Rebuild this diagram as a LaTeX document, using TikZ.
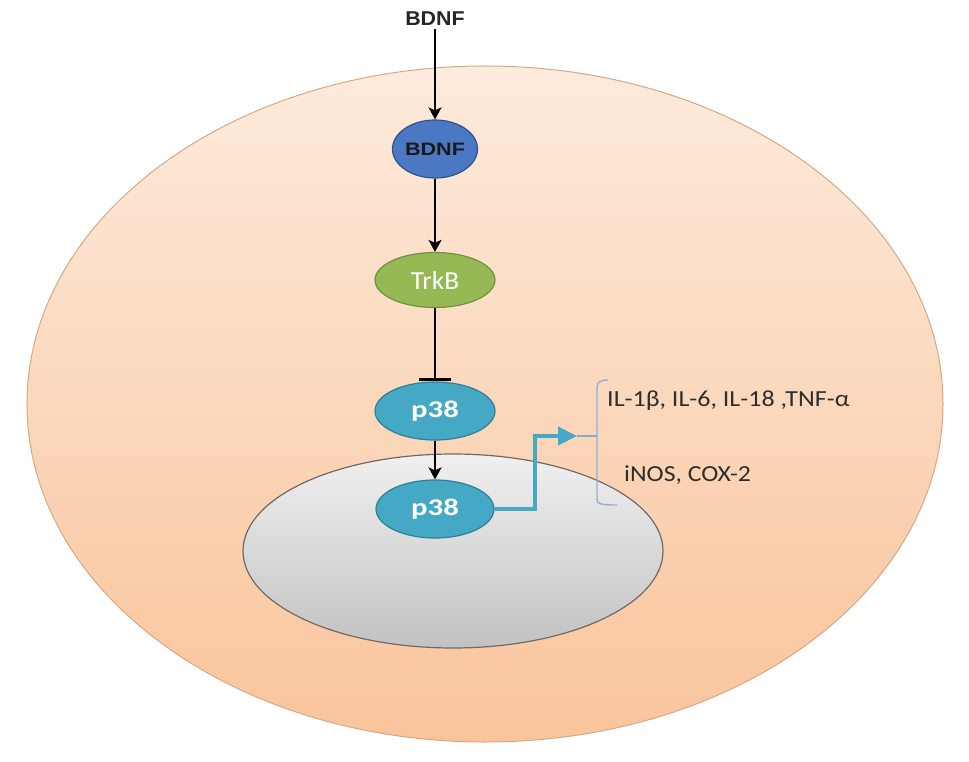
\documentclass[tikz,border=0pt]{standalone}
\usepackage{fontspec}
\usepackage{graphicx}
\setmainfont{Carlito}
\newfontfamily\arialfont{Liberation Sans}
\usetikzlibrary{shapes.geometric,arrows.meta}
\definecolor{cellborder}{HTML}{D8A883}
\definecolor{celltop}{HTML}{FDEBDD}
\definecolor{cellbot}{HTML}{F9C49B}
\definecolor{nuctop}{HTML}{F0F0F0}
\definecolor{nucbot}{HTML}{C2C2C2}
\definecolor{nucborder}{HTML}{6F6A66}
\definecolor{bdnfblue}{HTML}{4A78C3}
\definecolor{bdnfborder}{HTML}{2F5290}
\definecolor{trkgreen}{HTML}{97B955}
\definecolor{trkborder}{HTML}{73903E}
\definecolor{pteal}{HTML}{45A8C4}
\definecolor{pborder}{HTML}{2F8099}
\definecolor{bracketcol}{HTML}{93B1D9}
\tikzset{
  prot/.style={ellipse, draw, line width=1.2pt, inner sep=0pt},
  act/.style={line width=2pt, -{Stealth[length=12pt,width=13pt,inset=3pt]}},
  inh/.style={line width=2pt, -{Bar[width=32pt,line width=3.5pt]}},
  lbl/.style={font=\fontsize{23}{26}\selectfont, text=black!82, anchor=base west, inner sep=0pt},
}
\begin{document}
\begin{tikzpicture}[x=1pt,y=-1pt]
\useasboundingbox[fill=white] (0,0) rectangle (969,762);
% cell
\node[ellipse, draw=cellborder, line width=1pt, top color=celltop, bottom color=cellbot,
  minimum width=916pt, minimum height=676pt] (cell) at (485,404) {};
% nucleus
\node[ellipse, draw=nucborder, line width=1.2pt, top color=nuctop, bottom color=nucbot,
  minimum width=420pt, minimum height=194pt] (nuc) at (453,551) {};
% nodes
\node[font=\arialfont\bfseries\fontsize{20}{22}\selectfont, text=black!85] (bdnfout) at (435,19) {\scalebox{1.07}[1]{BDNF}};
\node[prot, fill=bdnfblue, draw=bdnfborder, minimum width=85pt, minimum height=58pt,
  font=\arialfont\bfseries\fontsize{18}{20}\selectfont, text=black!90] (bdnf) at (435,149) {\scalebox{1.2}[1]{BDNF}};
\node[prot, fill=trkgreen, draw=trkborder, minimum width=120pt, minimum height=55pt,
  font=\fontsize{26}{28}\selectfont, text=white] (trkb) at (435,280) {\scalebox{1.05}[1]{TrkB}};
\node[prot, fill=pteal, draw=pborder, minimum width=120pt, minimum height=58pt,
  font=\bfseries\fontsize{24}{26}\selectfont, text=white] (p38a) at (435,411) {\scalebox{1.28}[1]{p38}};
\node[prot, fill=pteal, draw=pborder, minimum width=118pt, minimum height=58pt,
  font=\bfseries\fontsize{24}{26}\selectfont, text=white] (p38b) at (435,509) {\scalebox{1.28}[1]{p38}};
% connectors
\draw[act] (bdnfout.south) -- (bdnf.north);
\draw[act] (bdnf.south) -- (trkb.north);
\draw[inh] (trkb.south) -- (p38a.north);
\draw[act] (p38a.south) -- (p38b.north);
% teal arrow
\coordinate (elbow) at (535,436);
\coordinate (tip) at (577,436);
\draw[pteal, line width=4pt, -{Triangle[length=19pt,width=18pt]}] (p38b.east) -| (elbow) -- (tip);
% bracket
\coordinate (bt) at (608,380);
\coordinate (bb) at (617,505);
\coordinate (bm) at (597,436);
\coordinate (bmt) at (577,436);
\draw[bracketcol, line width=1.4pt] (bt) .. controls (600,380) and (597,382) .. (597,388)
  -- (597,499) .. controls (597,504) and (600,505) .. (bb);
\draw[bracketcol!80!gray, line width=1.4pt] (bm) -- (bmt);
% labels
\node[lbl] (cyt) at (607,406) {\scalebox{1.13}[1]{IL-1β, IL-6, IL-18 ,TNF-α}};
\node[lbl] (enz) at (624,481) {\scalebox{1.12}[1]{iNOS, COX-2}};
\end{tikzpicture}
\end{document}
